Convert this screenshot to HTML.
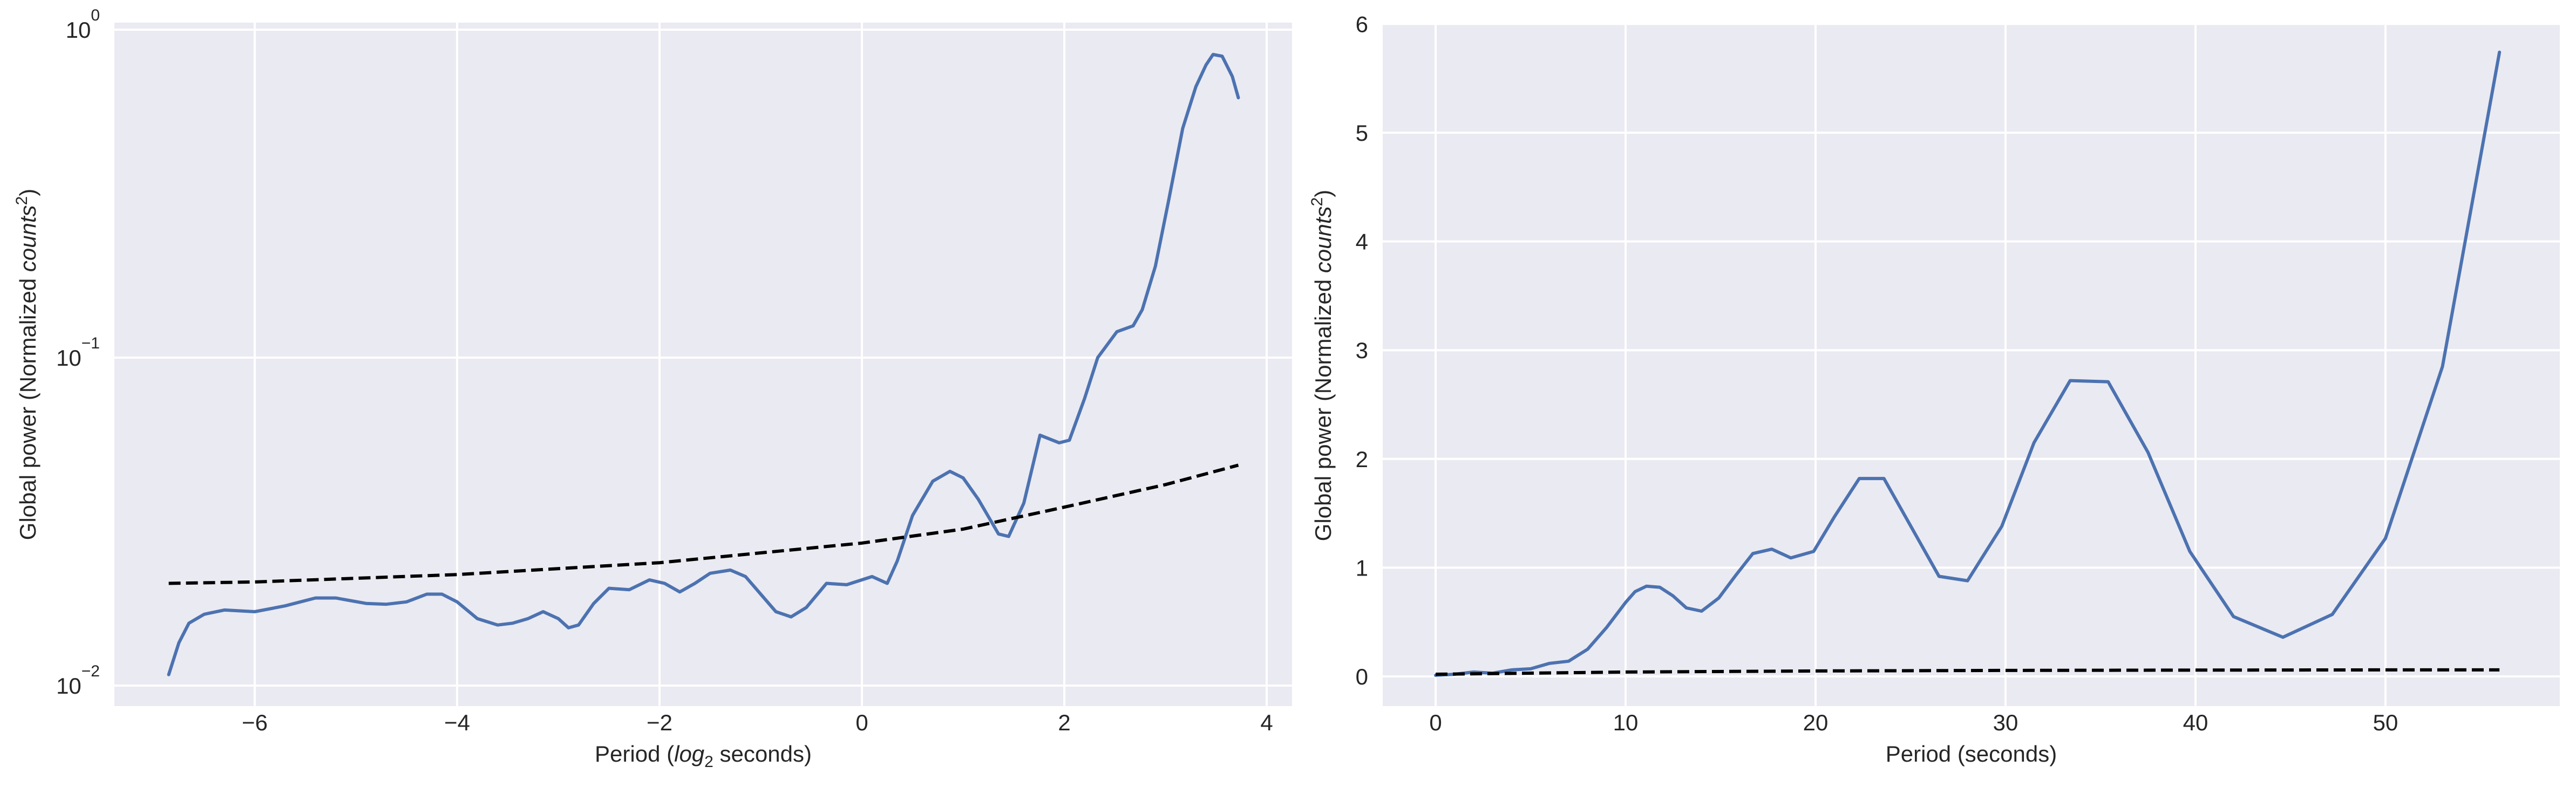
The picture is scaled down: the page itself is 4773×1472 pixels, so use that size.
<!DOCTYPE html>
<html><head><meta charset="utf-8"><style>
html,body{margin:0;padding:0;background:#fff;}
svg{display:block;font-family:"Liberation Sans",Arial,sans-serif;}
</style></head><body>
<svg id="fig" width="4773" height="1472" viewBox="0 0 4773 1472" xmlns="http://www.w3.org/2000/svg"></svg>
<script>
// ---- Left chart data (log2 period) ----
const leftX = [-6.85,-6.75,-6.65,-6.5,-6.3,-6.0,-5.7,-5.4,-5.2,-4.9,-4.7,-4.5,-4.3,-4.15,-4.0,-3.8,-3.6,-3.45,-3.3,-3.15,-3.0,-2.9,-2.8,-2.65,-2.5,-2.3,-2.1,-1.95,-1.8,-1.65,-1.5,-1.3,-1.15,-1.0,-0.85,-0.7,-0.55,-0.35,-0.15,0.1,0.25,0.35,0.5,0.7,0.87,1.0,1.15,1.35,1.45,1.6,1.76,1.95,2.05,2.2,2.33,2.52,2.68,2.77,2.9,3.03,3.17,3.3,3.4,3.47,3.56,3.66,3.72];
const leftPower = [0.0108,0.0135,0.0155,0.0165,0.017,0.0168,0.0175,0.0185,0.0185,0.0178,0.0177,0.018,0.019,0.019,0.018,0.016,0.0153,0.0155,0.016,0.0168,0.016,0.015,0.0153,0.0178,0.0198,0.0196,0.021,0.0205,0.0193,0.0205,0.022,0.0225,0.0215,0.019,0.0168,0.0162,0.0173,0.0205,0.0203,0.0215,0.0205,0.024,0.033,0.042,0.045,0.043,0.037,0.029,0.0285,0.036,0.058,0.055,0.056,0.075,0.1,0.12,0.125,0.14,0.19,0.3,0.5,0.67,0.78,0.84,0.83,0.72,0.62];
const leftSigX = [-6.85,-6,-4,-2,0,1,2,3,3.72];
const leftSig = [0.0205,0.0207,0.0218,0.0237,0.0272,0.030,0.035,0.041,0.047];
const leftXTicks = [-6,-4,-2,0,2,4];
const leftYTicks = [0,-1,-2];
// ---- Right chart data (period seconds) ----
const rightX = [0,1,2,3,4,5,6,7,8,9,10,10.5,11.1,11.8,12.5,13.2,14,14.9,15.8,16.7,17.7,18.7,19.9,21,22.3,23.6,26.5,28,29.8,31.5,33.4,35.4,37.5,39.7,42,44.6,47.2,50,53,56];
const rightPower = [0.01,0.02,0.04,0.03,0.06,0.07,0.12,0.14,0.25,0.45,0.68,0.78,0.83,0.82,0.74,0.63,0.6,0.72,0.93,1.13,1.17,1.09,1.15,1.47,1.82,1.82,0.92,0.88,1.38,2.15,2.72,2.71,2.06,1.15,0.55,0.36,0.57,1.27,2.85,5.74];
const rightSigX = [0,10,20,30,40,50,56];
const rightSig = [0.02,0.04,0.05,0.055,0.058,0.06,0.06];
const rightXTicks = [0,10,20,30,40,50];
const rightYTicks = [0,1,2,3,4,5,6];

const NS="http://www.w3.org/2000/svg";
const svg=document.getElementById('fig');
function mk(tag,attrs,parent){const e=document.createElementNS(NS,tag);for(const k in attrs)e.setAttribute(k,attrs[k]);(parent||svg).appendChild(e);return e;}

// Left axes geometry
const L={x0:212,x1:2394,y0:42,y1:1309};
const lx=v=>472+(v+6)*187.5;
const ly=v=>55-Math.log10(v)*608;
// Right axes geometry
const R={x0:2562,x1:4743,y0:46,y1:1309};
const rx=v=>2660+v*35.2;
const ry=v=>1254-v*201.6;

// Left panel
const lbg=mk('rect',{x:L.x0,y:L.y0,width:L.x1-L.x0,height:L.y1-L.y0,fill:'#eaeaf2'});


leftXTicks.forEach(t=>{
  const g=mk('line',{x1:lx(t),x2:lx(t),y1:L.y0,y2:L.y1,stroke:'#fff','stroke-width':4});
  
  
  const tx=mk('text',{x:lx(t),y:1354,'font-size':42,fill:'#262626','text-anchor':'middle'});
  tx.textContent=(t<0?'\u2212'+(-t):String(t));
  
  
});
leftYTicks.forEach(e=>{
  const y=ly(Math.pow(10,e));
  const g=mk('line',{x1:L.x0,x2:L.x1,y1:y,y2:y,stroke:'#fff','stroke-width':4});
  
  
  const tx=mk('text',{x:185,y:y+15,'font-size':42,fill:'#262626','text-anchor':'end'});
  
  
  const a=mk('tspan',{},tx);a.textContent='10';
  const b=mk('tspan',{dy:-32,'font-size':30},tx);b.textContent=(e<0?'\u2212'+(-e):String(e));
});
let d='';leftX.forEach((v,i)=>{d+=(i?'L':'M')+lx(v).toFixed(1)+' '+ly(leftPower[i]).toFixed(1);});
const lp=mk('path',{d:d,fill:'none',stroke:'#4c72b0','stroke-width':6,'stroke-linejoin':'round','stroke-linecap':'round'});


d='';leftSigX.forEach((v,i)=>{d+=(i?'L':'M')+lx(v).toFixed(1)+' '+ly(leftSig[i]).toFixed(1);});
const ls=mk('path',{d:d,fill:'none',stroke:'#000','stroke-width':6,'stroke-dasharray':'22 10'});


const lxl=mk('text',{x:(L.x0+L.x1)/2,y:1412,'font-size':42,fill:'#262626','text-anchor':'middle'});


lxl.innerHTML='Period (<tspan font-style="italic">log</tspan><tspan font-size="30" dy="10">2</tspan><tspan dy="-10"> seconds)</tspan>';
const lyl=mk('text',{x:0,y:0,'font-size':42,fill:'#262626','text-anchor':'middle',transform:'translate(66 '+((L.y0+L.y1)/2)+') rotate(-90)'});


lyl.innerHTML='Global power (Normalized <tspan font-style="italic">counts</tspan><tspan font-size="30" dy="-16">2</tspan><tspan dy="16">)</tspan>';

// Right panel
const rbg=mk('rect',{x:R.x0,y:R.y0,width:R.x1-R.x0,height:R.y1-R.y0,fill:'#eaeaf2'});


rightXTicks.forEach(t=>{
  const g=mk('line',{x1:rx(t),x2:rx(t),y1:R.y0,y2:R.y1,stroke:'#fff','stroke-width':4});
  
  
  const tx=mk('text',{x:rx(t),y:1354,'font-size':42,fill:'#262626','text-anchor':'middle'});
  tx.textContent=String(t);
  
  
});
rightYTicks.forEach(t=>{
  const y=ry(t);
  const g=mk('line',{x1:R.x0,x2:R.x1,y1:y,y2:y,stroke:'#fff','stroke-width':4});
  
  
  const tx=mk('text',{x:2535,y:y+15,'font-size':42,fill:'#262626','text-anchor':'end'});
  tx.textContent=String(t);
  
  
});
d='';rightX.forEach((v,i)=>{d+=(i?'L':'M')+rx(v).toFixed(1)+' '+ry(rightPower[i]).toFixed(1);});
const rp=mk('path',{d:d,fill:'none',stroke:'#4c72b0','stroke-width':6,'stroke-linejoin':'round','stroke-linecap':'round'});


d='';rightSigX.forEach((v,i)=>{d+=(i?'L':'M')+rx(v).toFixed(1)+' '+ry(rightSig[i]).toFixed(1);});
const rs=mk('path',{d:d,fill:'none',stroke:'#000','stroke-width':6,'stroke-dasharray':'22 10'});


const rxl=mk('text',{x:(R.x0+R.x1)/2,y:1412,'font-size':42,fill:'#262626','text-anchor':'middle'});
rxl.textContent='Period (seconds)';


const ryl=mk('text',{x:0,y:0,'font-size':42,fill:'#262626','text-anchor':'middle',transform:'translate(2466 '+((R.y0+R.y1)/2)+') rotate(-90)'});


ryl.innerHTML='Global power (Normalized <tspan font-style="italic">counts</tspan><tspan font-size="30" dy="-16">2</tspan><tspan dy="16">)</tspan>';
</script>
</body></html>
